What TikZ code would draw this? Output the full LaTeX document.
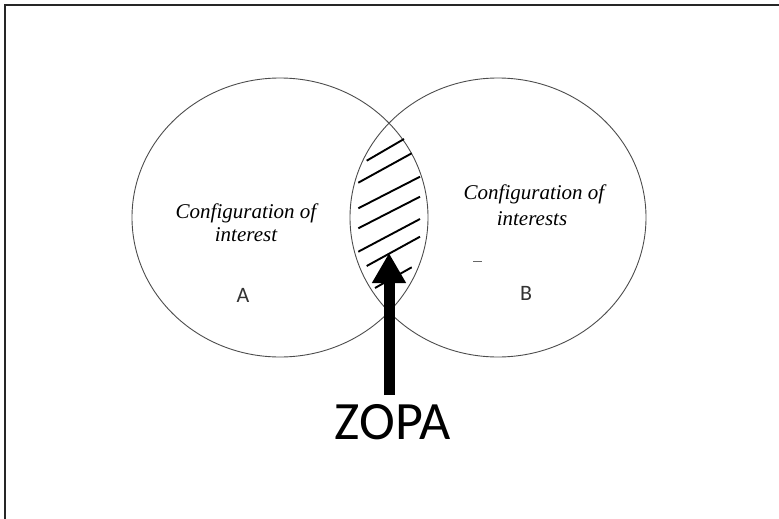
\documentclass[tikz,border=0pt]{standalone}
\usepackage{fontspec}
\usetikzlibrary{arrows.meta,shapes.geometric}
\newfontfamily\venntext{Liberation Serif}
\newfontfamily\calib{Carlito}
\tikzset{
  framerule/.style={line width=1.8pt, black!85},
  setshape/.style={ellipse, draw=black!70, line width=0.9pt, inner sep=0pt,
     minimum width=296pt, minimum height=279pt},
  hatchline/.style={line width=1.9pt, black},
  caption/.style={font=\venntext\itshape\fontsize{21}{24}\selectfont, inner sep=0pt, anchor=base},
  letter/.style={font=\calib\fontsize{22}{26}\selectfont, text=black!80, inner sep=0pt, anchor=base},
  zopalabel/.style={font=\calib\fontsize{54}{60}\selectfont, inner sep=0pt, anchor=base},
  zarrow/.style={line width=11pt, -{Triangle[width=32pt,length=30pt]}}
}
\begin{document}
\begin{tikzpicture}[x=1pt,y=-1pt]
\useasboundingbox (0,0) rectangle (779,519);
% frame (top and left edges)
\draw[framerule] (5,519) -- (5,5) -- (779,5);
% sets
\node[setshape] (A) at (280,217.5) {};
\node[setshape] (B) at (498,217.5) {};
% hatching of the overlap
\draw[hatchline] (366.7,160.7) -- (404,139);
\draw[hatchline] (358.3,182.7) -- (411.7,153.3);
\draw[hatchline] (358.3,208.3) -- (420,176.7);
\draw[hatchline] (358.3,228.3) -- (420,196.7);
\draw[hatchline] (358.3,251.7) -- (420,219);
\draw[hatchline] (366.7,266) -- (420,236.7);
\draw[hatchline] (375,288) -- (411.7,267.3);
% texts
\node[caption] (a1) at (246,218) {Configuration of};
\node[caption] (a2) at (246,241) {interest};
\node[caption] (b1) at (534,199) {Configuration of};
\node[caption] (b2) at (532,225) {interests};
\node[letter] (la) at (243,302) {A};
\node[letter] (lb) at (526,300) {B};
\draw[black!60, line width=0.8pt] (473,261) -- (482,261);
% ZOPA
\node[zopalabel] (zopa) at (392.5,439) {ZOPA};
\coordinate (shaftbase) at (389,395);
\coordinate (tip) at (389,253);
\draw[zarrow] (shaftbase) -- (tip);
\end{tikzpicture}
\end{document}
